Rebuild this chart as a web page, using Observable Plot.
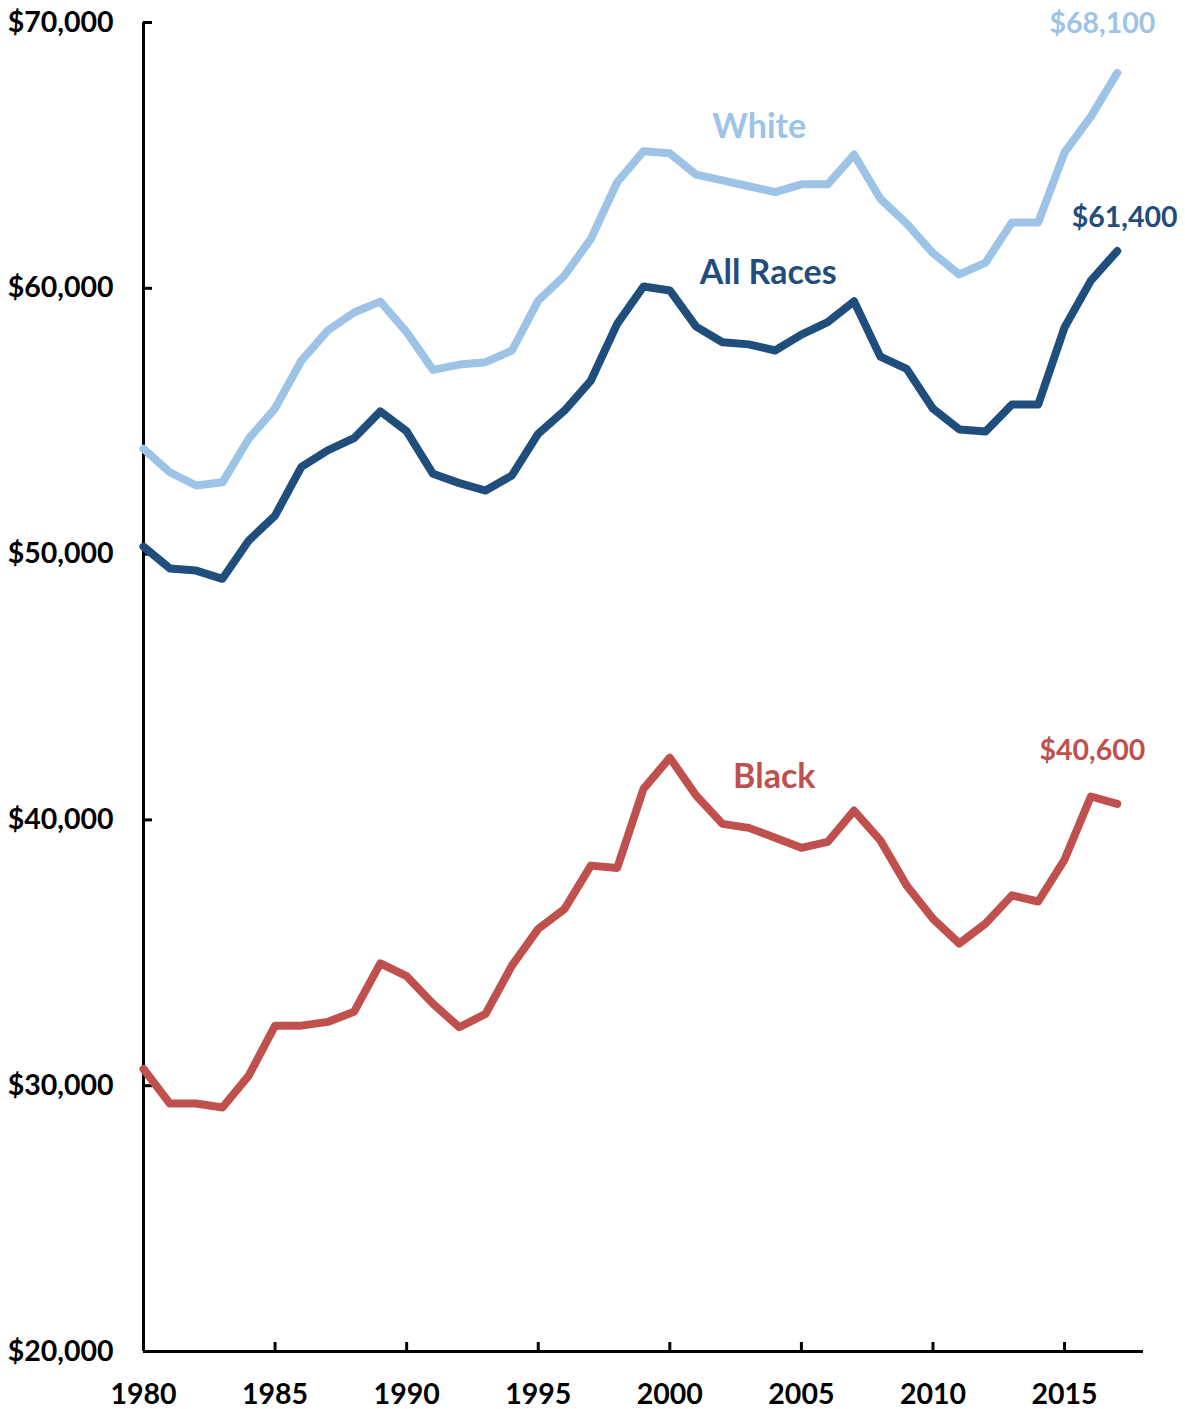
<!DOCTYPE html>
<html>
<head>
<meta charset="utf-8">
<script src="https://cdn.jsdelivr.net/npm/d3@7"></script>
<script src="https://cdn.jsdelivr.net/npm/@observablehq/plot@0.6"></script>
<style>
  html, body { margin: 0; padding: 0; background: #fff; }
  #chart svg { display: block; }
</style>
</head>
<body>
<div id="chart"></div>
<script>
const years = d3.range(1980, 2018);

const white = [
  53960, 53080, 52580, 52700, 54340, 55480, 57280, 58410, 59090, 59500,
  58350, 56930, 57130, 57220, 57660, 59540, 60480, 61860, 63990, 65160,
  65080, 64280, 64060, 63840, 63620, 63910, 63910, 65030, 63370, 62430,
  61320, 60520, 60970, 62480, 62480, 65110, 66460, 68100
];

const allRaces = [
  50280, 49460, 49380, 49070, 50510, 51450, 53280, 53900, 54360, 55370,
  54620, 53020, 52670, 52390, 52960, 54530, 55400, 56530, 58660, 60070,
  59920, 58560, 57970, 57890, 57660, 58260, 58730, 59510, 57430, 56970,
  55470, 54690, 54610, 55630, 55630, 58530, 60290, 61400
];

const black = [
  30630, 29330, 29330, 29180, 30380, 32260, 32260, 32400, 32780, 34600,
  34120, 33080, 32200, 32700, 34520, 35900, 36650, 38280, 38190, 41170,
  42340, 40920, 39850, 39700, 39330, 38950, 39170, 40350, 39230, 37530,
  36280, 35350, 36100, 37160, 36930, 38510, 40880, 40600
];

const yTicks = [20000, 30000, 40000, 50000, 60000, 70000];
const xTicks = [1980, 1985, 1990, 1995, 2000, 2005, 2010, 2015];

const colors = { white: "#9DC3E6", all: "#1F4E7D", black: "#C0504D" };

const rows = (vals, series) => years.map((year, i) => ({ year, value: vals[i], series }));

const font = "Lato, 'Open Sans', sans-serif";
const lineOpts = { x: "year", y: "value", strokeWidth: 8, strokeLinecap: "round", strokeLinejoin: "round" };

const chart = Plot.plot({
  width: 1185,
  height: 1409,
  marginLeft: 143,
  marginRight: 42,
  marginTop: 22,
  marginBottom: 58,
  x: { domain: [1980, 2018], label: null },
  y: { domain: [20000, 70000], label: null },
  style: { fontFamily: font, fontWeight: "bold", fontSize: "28px", color: "#000", background: "#fff" },
  marks: [
    Plot.axisY(yTicks, { tickSize: 0, tickPadding: 30, tickFormat: d => "$" + d3.format(",")(d), fontSize: 28.5, fontWeight: "bold" }),
    Plot.axisY(yTicks, { tickSize: -9, strokeWidth: 3, tickFormat: () => "" }),
    Plot.axisX(xTicks, { tickSize: 0, tickPadding: 32, tickFormat: d => String(d), fontSize: 28.5, fontWeight: "bold" }),
    Plot.axisX(xTicks, { tickSize: -9, strokeWidth: 3, tickFormat: () => "" }),
    Plot.ruleX([1980], { stroke: "#000", strokeWidth: 3 }),
    Plot.ruleY([20000], { stroke: "#000", strokeWidth: 3 }),
    Plot.line(rows(white, "White"), { ...lineOpts, stroke: colors.white }),
    Plot.line(rows(allRaces, "All Races"), { ...lineOpts, stroke: colors.all }),
    Plot.line(rows(black, "Black"), { ...lineOpts, stroke: colors.black }),
    Plot.text(["White"], { x: 2003.4, y: 66050, text: d => d, fill: colors.white, fontSize: 34, fontWeight: "bold" }),
    Plot.text(["All Races"], { x: 2003.74, y: 60560, text: d => d, fill: colors.all, fontSize: 34, fontWeight: "bold" }),
    Plot.text(["Black"], { x: 2003.97, y: 41600, text: d => d, fill: colors.black, fontSize: 34, fontWeight: "bold" }),
    Plot.text([white[white.length - 1]], { x: 2016.44, y: 69960, text: d => "$" + d3.format(",")(d), fill: colors.white, fontSize: 28.5, fontWeight: "bold" }),
    Plot.text([allRaces[allRaces.length - 1]], { x: 2017.28, y: 62660, text: d => "$" + d3.format(",")(d), fill: colors.all, fontSize: 28.5, fontWeight: "bold" }),
    Plot.text([black[black.length - 1]], { x: 2016.06, y: 42610, text: d => "$" + d3.format(",")(d), fill: colors.black, fontSize: 28.5, fontWeight: "bold" })
  ]
});

document.getElementById("chart").append(chart);
</script>
</body>
</html>
